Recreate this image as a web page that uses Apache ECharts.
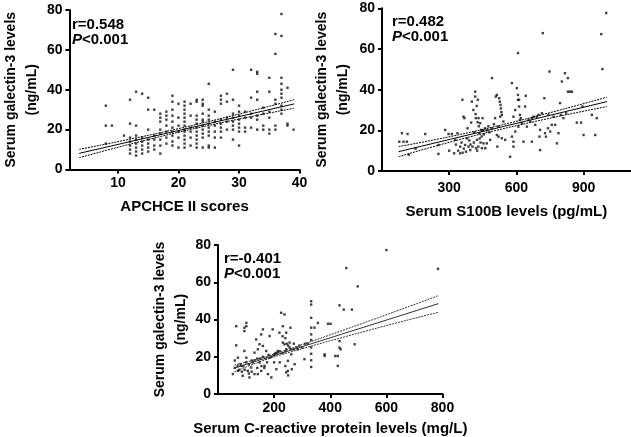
<!DOCTYPE html>
<html><head><meta charset="utf-8">
<script src="https://cdn.jsdelivr.net/npm/echarts@6/dist/echarts.min.js"></script>
<style>html,body{margin:0;padding:0;background:#fff}#c{width:631px;height:437px}</style>
</head><body><div id="c"></div>
<script>
const FONT = '"Liberation Sans", Arial, sans-serif';
const yTitle = 'Serum galectin-3 levels\n(ng/mL)';
const yTicks = [0, 20, 40, 60, 80];

// Panel 1: APACHE II scores
const apacheTitle = 'APCHCE II scores';
const apacheTicks = [10, 20, 30, 40];
const apacheStats = ['r=0.548', '<0.001'];
const apachePoints = [
 [8,32],[8,22],[8,13],[9,22],[11,17],
 [12,35],[12,23],[12,16],[12,14],[12,12],[12,10],[12,8],
 [13,39],[13,22],[13,17],[13,15],[13,13],[13,11],[13,9],[13,7],
 [14,38],[14,16],[14,14],[14,12],[14,10],[14,8],
 [15,36],[15,30],[15,20],[15,15],[15,13],[15,11],[15,9],
 [16,30],[16,17],[16,15],[16,12],[16,10],
 [17,28],[17,26],[17,24],[17,20],[17,18],[17,15],[17,12],[17,8],
 [18,29],[18,27],[18,25],[18,22],[18,19],[18,16],[18,13],
 [19,37],[19,34],[19,30],[19,27],[19,24],[19,21],[19,19],[19,17],[19,14],[19,12],
 [20,33],[20,26],[20,22],[20,19],[20,16],[20,11],
 [21,34],[21,32],[21,30],[21,28],[21,26],[21,24],[21,22],[21,20],[21,19],[21,17],[21,15],[21,13],[21,11],
 [22,33],[22,27],[22,21],[22,19],[22,16],[22,12],
 [23,35],[23,34],[23,27],[23,25],[23,23],[23,21],[23,19],[23,17],[23,15],[23,13],[23,11],
 [24,35],[24,33],[24,32],[24,28],[24,25],[24,24],[24,22],[24,20],[24,18],[24,16],[24,11],
 [25,43],[25,30],[25,27],[25,25],[25,23],[25,21],[25,19],[25,17],[25,12],[25,11],
 [26,29],[26,24],[26,22],[26,19],[26,16],[26,11],
 [27,37],[27,35],[27,33],[27,25],[27,23],[27,21],[27,19],[27,16],
 [28,38],[28,34],[28,26],[28,24],[28,20],
 [29,50],[29,35],[29,28],[29,26],[29,24],[29,22],[29,20],[29,15],
 [30,32],[30,29],[30,27],[30,25],[30,23],[30,21],[30,19],[30,12],
 [31,29],[31,26],[31,21],[31,19],
 [32,50],[32,36],[32,28],[32,26],[32,21],
 [33,49],[33,48],[33,39],[33,35],[33,27],[33,25],[33,20],
 [34,31],[34,28],[34,22],[34,20],
 [35,46],[35,39],[35,29],[35,26],[35,20],[35,18],
 [36,68],[36,58],[36,35],[36,33],[36,22],[36,20],
 [37,78],[37,67],[37,46],[37,43],[37,40],[37,38],[37,36],[37,32],[37,30],[37,28],
 [38,41],[38,23],[38,22],[39,20]
];
const apacheFit = [[3.6,8.1],[39.1,32.9]];
const apacheUpper = [[3.6,10.1],[21,21.2],[39.1,35.0]];
const apacheLower = [[3.6,5.9],[21,19.4],[39.1,30.7]];

// Panel 2: S100B
const s100Title = 'Serum S100B levels (pg/mL)';
const s100Ticks = [300, 600, 900];
const s100Stats = ['r=0.482', '<0.001'];
const s100Points = [
 [77,14.4],[96,14.4],[111,14.4],[114,18.2],[89,18.6],[193,18.2],[252,12.8],[252,8.4],[282,20.2],[297,18.2],
 [312,18.2],[322,8.7],[327,15.3],[337,18.6],[349,12],[349,8.7],[359,35],[364,26.7],[368,26],[371,12.8],
 [375,9.5],[382,21],[386,12],[394,10.3],[398,23.8],[401,34.1],[404,12],[408,30],[416,39],[416,36.6],
 [419,26],[420,11.2],[424,15.3],[428,35],[431,26],[434,18.6],[438,23.5],[443,20.2],[446,11.2],[449,26],
 [453,13.6],[461,11.2],[468,13.6],[483,15.3],[491,45.7],[505,26],[508,36.6],[515,12],[520,16.9],[513,37.4],
 [523,35.8],[526,34.1],[529,32.5],[531,30.8],[533,29],[535,27.6],[528,26.7],[542,24.3],[520,21.8],[513,17.7],
 [535,16.1],[550,15.3],[572,7],[580,43.2],[580,16.9],[587,14.4],[587,12],[587,26.7],[595,30],[595,19.4],
 [602,40.7],[607,58],[607,37.4],[607,35],[609,21.8],[612,35],[612,31.7],[616,27.6],[616,25.1],[620,26],
 [625,23.5],[632,14.4],[639,31.7],[642,37],[647,21.8],[654,25.1],[662,24.3],[669,14.4],[669,26],[676,26.7],
 [684,22.7],[691,26.7],[699,27.6],[703,16.9],[706,20.2],[706,10.3],[714,28.4],[718,67.8],[725,35.8],[728,18.6],
 [732,16.9],[741,21],[743,27.6],[748,48.9],[751,19.4],[758,22.7],[766,26.7],[773,22.7],[781,13.6],[788,18.6],
 [795,33.4],[799,27.6],[803,44],[810,26],[817,48.1],[822,28.4],[830,45.7],[830,39],[840,39],[848,39],
 [870,23.8],[889,23.8],[895,31.7],[900,17.7],[937,27.6],[952,17.7],[959,26],[979,67.3],[984,50.1],[1001,77.7],
 [300,10],[330,13],[340,10],[355,14],[360,9],[365,11],[380,16],[390,15],[395,13],[410,14],
 [412,19],[425,10],[430,12],[436,16],[440,14],[445,17],[450,20],[455,18],[460,21],[470,20],
 [475,22],[480,19],[490,21],[500,23],[418,28],[423,32],[427,24],[432,22],[120,8],[150,11]
];
const s100Fit = [[74,9.5],[1004,34.1]];
const s100Upper = [[74,12.0],[480,21.2],[1004,36.3]];
const s100Lower = [[74,7.0],[480,19.2],[1004,31.7]];

// Panel 3: C-reactive protein
const crpTitle = 'Serum C-reactive protein levels (mg/L)';
const crpTicks = [200, 400, 600, 800];
const crpStats = ['r=-0.401', '<0.001'];
const crpPoints = [
 [53,10.7],[65,36.4],[65,26.1],[71,19.5],[71,12.4],[83,15.1],[88,9.8],[94,35.6],[94,33.8],[101,38.2],
 [101,36.4],[94,23.1],[101,19.5],[106,12.4],[112,8.9],[118,14.2],[124,16.9],[130,22.2],[130,10.7],[136,29.3],
 [142,24],[142,10.7],[148,26.7],[148,16.9],[154,32],[154,12.4],[160,34.7],[160,25.8],[166,15.1],[172,23.1],
 [178,10.7],[184,19.5],[184,31.1],[190,8.9],[195,34.7],[201,21.3],[208,13.3],[213,23.1],[219,32.9],[225,43.6],
 [231,36.4],[231,27.6],[237,42.7],[237,26.7],[243,24],[243,32.9],[243,11.6],[249,17.8],[249,12.4],[255,27.6],
 [258,35.6],[261,21.3],[263,13.3],[273,16],[284,24],[308,18.7],[332,49.8],[332,48],[332,40.9],[332,35.6],
 [332,32],[332,29],[332,25],[332,21.6],[332,18.1],[332,14.5],[344,35.6],[356,38.2],[380,20.4],[392,37.7],
 [401,37.7],[433,47.6],[457,67.6],[448,45.3],[477,45.3],[498,57.8],[600,77.3],[784,67.2],[433,28.4],[433,24.9],
 [437,24],[427,20.4],[418,20.4],[427,15.1],[487,26.7],[380,21.3],
 [60,14],[70,15],[80,16],[90,15],[100,17],[110,16],[120,18],[130,18],[140,19],[150,19],
 [160,20],[170,19],[180,21],[190,20],[200,21],[205,22],[210,22],[220,23],[230,22],[240,23],
 [245,27],[250,26],[255,25],[260,24],[270,24],[280,25],[290,26],[300,25],[310,27],[320,27],
 [60,18],[75,13],[85,12],[95,13],[110,11],[120,12],[140,14],[155,15],[165,14],[175,17],
 [200,17],[220,17],[240,15],[250,10],[270,27],[230,31],[240,30]
];
const crpFit = [[58,13.9],[785,48.5]];
const crpUpper = [[58,15.6],[230,22.9],[785,52.8]];
const crpLower = [[58,11.9],[230,21.3],[785,43.9]];

const panels = [
  {title: apacheTitle, ticks: apacheTicks, stats: apacheStats, pts: apachePoints, fit: apacheFit, up: apacheUpper, lo: apacheLower,
   min: 2, max: 40, grid: {left: 63, top: 10, width: 236.6, height: 159.5}, xOff: 2, labMargin: 5, nameGap: 28, yGap: 24,
   statPos: [72, 17], lineCol: '#000'},
  {title: s100Title, ticks: s100Ticks, stats: s100Stats, pts: s100Points, fit: s100Fit, up: s100Upper, lo: s100Lower,
   min: 0, max: 1110, grid: {left: 382, top: 8.3, width: 248.6, height: 162.7}, xOff: 1, labMargin: 9, nameGap: 32, yGap: 28,
   statPos: [392, 14], lineCol: '#000'},
  {title: crpTitle, ticks: crpTicks, stats: crpStats, pts: crpPoints, fit: crpFit, up: crpUpper, lo: crpLower,
   min: 0, max: 800, grid: {left: 218, top: 245, width: 224.5, height: 150}, xOff: 2, labMargin: 5, nameGap: 25, yGap: 21,
   statPos: [224, 251], lineCol: '#333'}
];

const axisLine = {show: true, lineStyle: {color: '#000', width: 2}};
const tickStyle = {show: true, length: 4, inside: false, lineStyle: {color: '#000', width: 2}};
const labelStyle = {color: '#000', fontFamily: FONT, fontSize: 14, fontWeight: 'bold'};

const option = {
  animation: false,
  backgroundColor: '#fff',
  grid: panels.map(p => Object.assign({containLabel: false}, p.grid)),
  xAxis: panels.map((p, i) => ({
    type: 'value', gridIndex: i, min: p.min, max: p.max, offset: p.xOff,
    axisLine, splitLine: {show: false},
    axisTick: Object.assign({customValues: p.ticks}, tickStyle),
    axisLabel: Object.assign({customValues: p.ticks, margin: p.labMargin}, labelStyle),
    name: p.title, nameLocation: 'middle', nameGap: p.nameGap,
    nameTextStyle: {color: '#000', fontFamily: FONT, fontSize: 15, fontWeight: 'bold'}
  })),
  yAxis: panels.map((p, i) => ({
    type: 'value', gridIndex: i, min: 0, max: 80, interval: 20,
    axisLine, splitLine: {show: false},
    axisTick: tickStyle,
    axisLabel: Object.assign({margin: 7}, labelStyle),
    name: yTitle, nameLocation: 'middle', nameRotate: 90, nameGap: p.yGap,
    nameTextStyle: {color: '#000', fontFamily: FONT, fontSize: 14, fontWeight: 'bold', lineHeight: 21}
  })),
  series: [],
  graphic: panels.map(p => ({
    type: 'text', left: p.statPos[0], top: p.statPos[1],
    style: {
      text: '{a|' + p.stats[0] + '}\n{i|P}{a|' + p.stats[1] + '}',
      rich: {
        a: {fontFamily: FONT, fontSize: 15, fontWeight: 'bold', fill: '#000', lineHeight: 15},
        i: {fontFamily: FONT, fontSize: 15, fontWeight: 'bold', fontStyle: 'italic', fill: '#000', lineHeight: 15}
      }
    }
  }))
};

panels.forEach((p, i) => {
  option.series.push({
    type: 'scatter', xAxisIndex: i, yAxisIndex: i, data: p.pts,
    symbol: 'rect', symbolSize: 2.4, itemStyle: {color: '#111'}
  });
  option.series.push({
    type: 'line', xAxisIndex: i, yAxisIndex: i, data: p.fit, showSymbol: false,
    lineStyle: {color: p.lineCol, width: 1}
  });
  [p.up, p.lo].forEach(b => option.series.push({
    type: 'line', xAxisIndex: i, yAxisIndex: i, data: b, showSymbol: false, smooth: true,
    lineStyle: {color: p.lineCol, width: 1, type: [2, 1]}
  }));
});

const chart = echarts.init(document.getElementById('c'), null, {renderer: 'canvas'});
chart.setOption(option);
</script>
</body></html>
